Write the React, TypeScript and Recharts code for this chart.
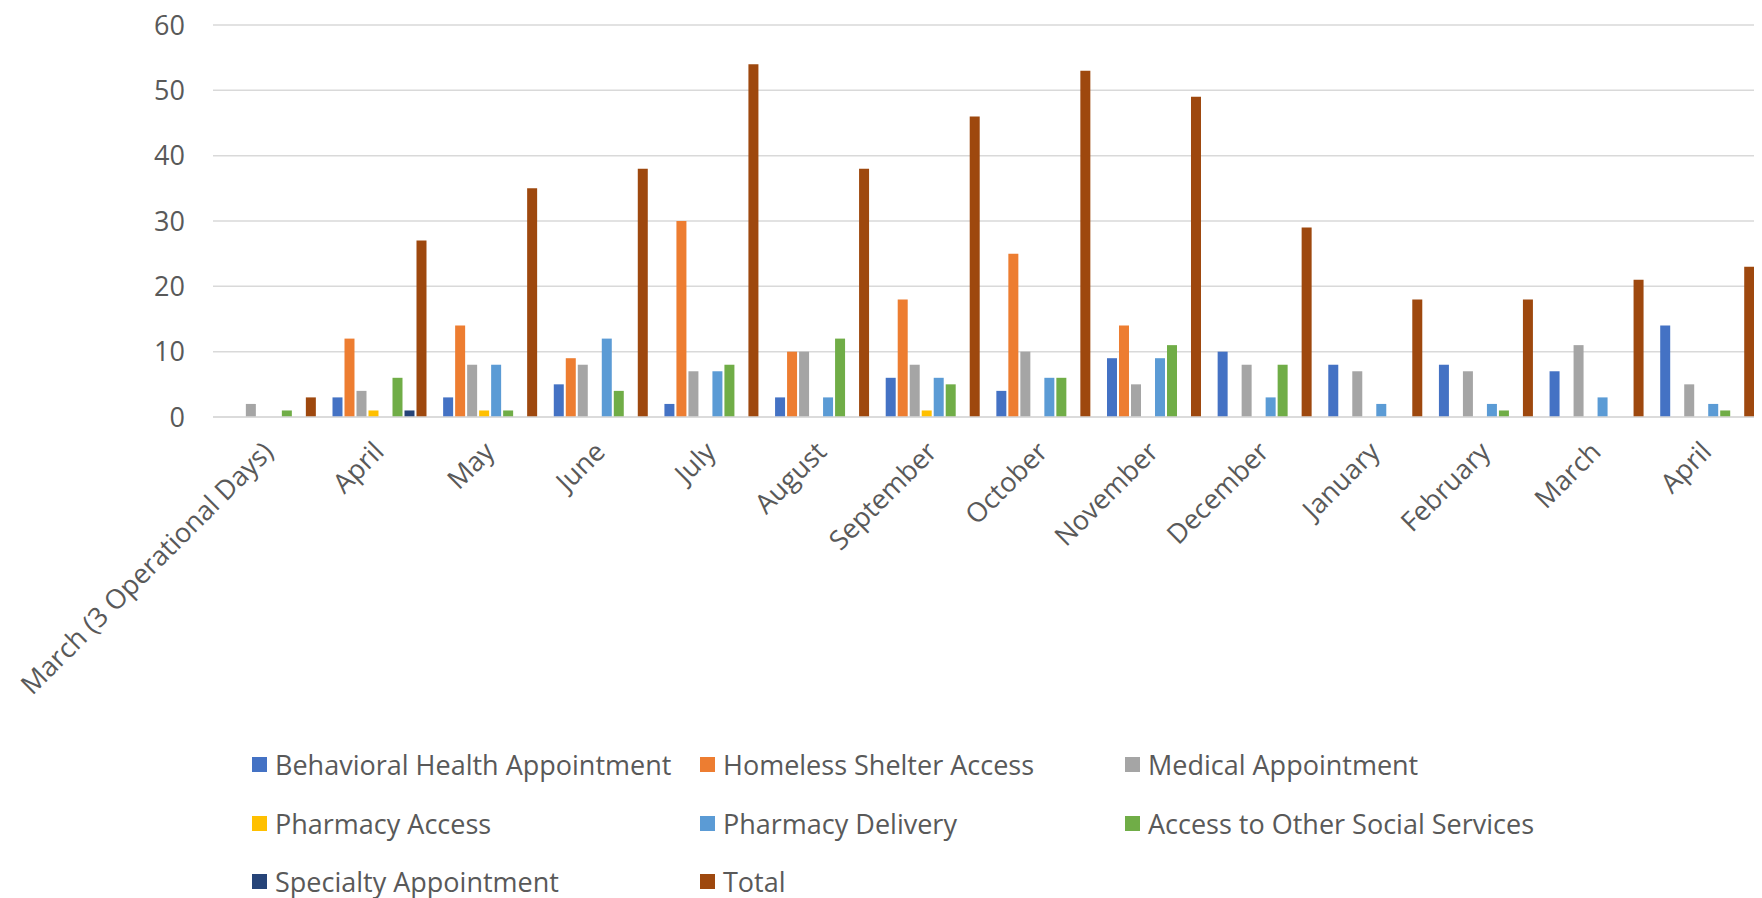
import React from "react";
import { Bar, BarChart, CartesianGrid, XAxis, YAxis } from "recharts";

// Monthly service referrals by type, Mar 2020 – Apr 2021.

const MONTHS = [
  "March (3 Operational Days)",
  "April",
  "May",
  "June",
  "July",
  "August",
  "September",
  "October",
  "November",
  "December",
  "January",
  "February",
  "March",
  "April",
];

const BEHAVIORAL = [0, 3, 3, 5, 2, 3, 6, 4, 9, 10, 8, 8, 7, 14];
const HOMELESS = [0, 12, 14, 9, 30, 10, 18, 25, 14, 0, 0, 0, 0, 0];
const MEDICAL = [2, 4, 8, 8, 7, 10, 8, 10, 5, 8, 7, 7, 11, 5];
const PHARMACY_ACCESS = [0, 1, 1, 0, 0, 0, 1, 0, 0, 0, 0, 0, 0, 0];
const PHARMACY_DELIVERY = [0, 0, 8, 12, 7, 3, 6, 6, 9, 3, 2, 2, 3, 2];
const SOCIAL = [1, 6, 1, 4, 8, 12, 5, 6, 11, 8, 0, 1, 0, 1];
const SPECIALTY = [0, 1, 0, 0, 0, 0, 0, 0, 0, 0, 0, 0, 0, 0];
const TOTAL = [3, 27, 35, 38, 54, 38, 46, 53, 49, 29, 18, 18, 21, 23];

const Y_TICKS = [0, 10, 20, 30, 40, 50, 60];

const SERIES = [
  { key: "behavioral", name: "Behavioral Health Appointment", color: "#4472C4", values: BEHAVIORAL },
  { key: "homeless", name: "Homeless Shelter Access", color: "#ED7D31", values: HOMELESS },
  { key: "medical", name: "Medical Appointment", color: "#A5A5A5", values: MEDICAL },
  { key: "pharmAccess", name: "Pharmacy Access", color: "#FFC000", values: PHARMACY_ACCESS },
  { key: "pharmDelivery", name: "Pharmacy Delivery", color: "#5B9BD5", values: PHARMACY_DELIVERY },
  { key: "social", name: "Access to Other Social Services", color: "#70AD47", values: SOCIAL },
  { key: "specialty", name: "Specialty Appointment", color: "#264478", values: SPECIALTY },
  { key: "total", name: "Total", color: "#9E480E", values: TOTAL },
];

const TEXT = "#595959";
const GRID = "#D9D9D9";
const FONT = "'Open Sans', sans-serif";

const data = MONTHS.map((m, i) => {
  const row: Record<string, string | number> = { month: m };
  SERIES.forEach((s) => {
    row[s.key] = s.values[i];
  });
  return row;
});

// Rotated category label, end of text hung just under the tick (Excel style).
function MonthTick(props: { x?: number; y?: number; payload?: { value: string } }) {
  const { x = 0, y = 0, payload } = props;
  return (
    <g transform={`translate(${x + 6.5},${y + 28.5}) rotate(-45)`}>
      <text x={0} y={0} textAnchor="end" fill={TEXT} fontSize={27} fontFamily={FONT}>
        {payload?.value}
      </text>
    </g>
  );
}

// Excel-style legend: three fixed columns, wrapping rows.
const LEGEND_COLS = [244, 692, 1117];
const LEGEND_ROWS = [756, 815, 873];

function ChartLegend() {
  return (
    <>
      {SERIES.map((s, i) => (
        <div
          key={s.key}
          style={{
            position: "absolute",
            left: LEGEND_COLS[i % 3],
            top: LEGEND_ROWS[Math.floor(i / 3)] - 18,
            height: 36,
            display: "flex",
            alignItems: "center",
            whiteSpace: "nowrap",
            fontFamily: FONT,
            fontSize: 27,
            color: TEXT,
          }}
        >
          <span
            style={{
              width: 15,
              height: 15,
              background: s.color,
              display: "inline-block",
              marginRight: 8,
            }}
          />
          {s.name}
        </div>
      ))}
    </>
  );
}

export default function App() {
  return (
    <div style={{ position: "relative", width: 1754, height: 890, overflow: "hidden", background: "#fff" }}>
      <BarChart
        width={1754}
        height={890}
        data={data}
        margin={{ top: 17, right: 0, bottom: 0, left: 0 }}
        barCategoryGap="8%"
        barGap={2}
      >
        <CartesianGrid vertical={false} stroke={GRID} strokeWidth={1.5} />
        <XAxis
          dataKey="month"
          interval={0}
          height={481}
          tickLine={false}
          axisLine={{ stroke: GRID, strokeWidth: 1.5 }}
          tick={<MonthTick />}
        />
        <YAxis
          width={205}
          domain={[0, 60]}
          ticks={Y_TICKS}
          tickLine={false}
          axisLine={false}
          tickMargin={22}
          tick={{ fill: TEXT, fontSize: 27, fontFamily: FONT }}
        />
        {SERIES.map((s) => (
          <Bar key={s.key} dataKey={s.key} name={s.name} fill={s.color} isAnimationActive={false} />
        ))}
      </BarChart>
      <ChartLegend />
    </div>
  );
}
